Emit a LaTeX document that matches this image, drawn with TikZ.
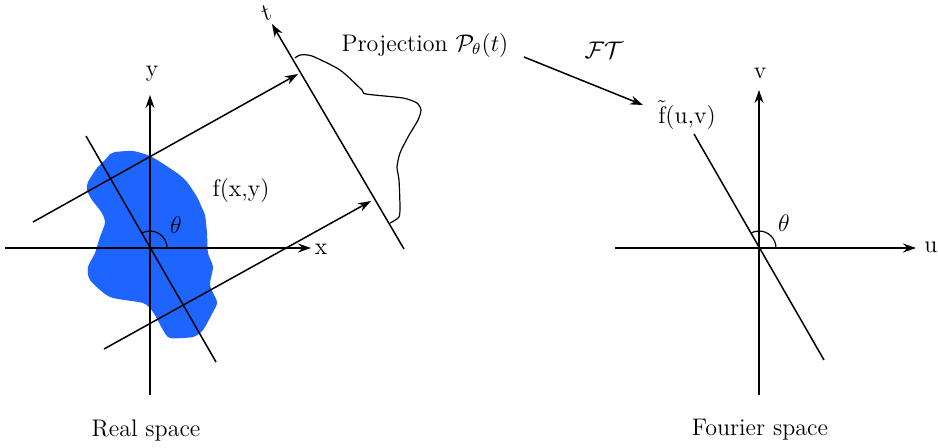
\documentclass[tikz,border=0pt]{standalone}
\usepackage{amsmath,amssymb}
\usetikzlibrary{arrows.meta}

\tikzset{
  axis/.style={line width=0.75pt, -{Stealth[length=6.5pt,width=4.5pt]}},
  plain/.style={line width=0.75pt},
  label/.style={font=\fontsize{12}{14}\selectfont, inner sep=0pt},
}

\begin{document}
\begin{tikzpicture}[x=0.5pt,y=0.5pt]
  \useasboundingbox (0,0) rectangle (938,447);

  % Object in real space
  \fill[fill={rgb,255:red,30;green,100;blue,255}] plot[smooth, tension=0.4] coordinates {
    (115,295) (133,296) (152,290) (177,274) (187,265) (197,250) (202,239)
    (205,232) (207,214) (208,194) (213,180) (210,162) (217,145) (213,135)
    (203,117) (193,110) (170,109) (163,117) (153,135) (143,144) (110,150)
    (90,167) (88,180) (95,194) (100,210) (105,224) (102,234) (92,247)
    (87,257) (88,265) (97,279) (105,287) (110,293)} -- cycle;

  % Real space coordinates
  \coordinate (o1)  at (150,199);
  \coordinate (xl)  at (5,199);
  \coordinate (xr)  at (311,199);
  \coordinate (yb)  at (150,52);
  \coordinate (yt)  at (150,352);
  \coordinate (l1a) at (86,311);
  \coordinate (l1b) at (216,85);
  \coordinate (r1a) at (33,225);
  \coordinate (r1b) at (298,373);
  \coordinate (r2a) at (104,98);
  \coordinate (r2b) at (371,246);
  \coordinate (ta)  at (404,198);
  \coordinate (tb)  at (272,423);

  % Fourier space coordinates
  \coordinate (o2)  at (759,199);
  \coordinate (ul)  at (615,199);
  \coordinate (ur)  at (916,199);
  \coordinate (vb)  at (759,52);
  \coordinate (vt)  at (759,357);
  \coordinate (l2a) at (694,313);
  \coordinate (l2b) at (824,87);

  % Labels
  \node[label] (x)     at (321,198) {x};
  \node[label] (y)     at (152,373) {y};
  \node[label] (t)     at (266,434) [rotate=30] {$t$};
  \node[label] (th1)   at (176,222) {$\theta$};
  \node[label] (f)     at (241,256) {f(x,y)};
  \node[label] (proj)  at (425,402) {Projection $\mathcal{P}_\theta(t)$};
  \node[label] (ft)    at (604,397) {$\mathcal{FT}$};
  \node[label] (ftil)  at (687,332) {$\tilde{\text{f}}$(u,v)};
  \node[label] (u)     at (931,200) {u};
  \node[label] (v)     at (760,374) {v};
  \node[label] (th2)   at (784,224) {$\theta$};
  \node[label] (real)  at (146,17)  {Real space};
  \node[label] (four)  at (760,17)  {Fourier space};

  % Real space
  \draw[axis] (xl) -- (xr);
  \draw[axis] (yb) -- (yt);
  \draw[plain] (l1a) -- (l1b);
  \draw[line width=0.6pt] (o1) ++(17,0) arc[start angle=0, end angle=120, radius=17];
  \draw[axis] (r1a) -- (r1b);
  \draw[axis] (r2a) -- (r2b);
  \draw[axis] (ta) -- (tb);

  % Projection profile
  \draw[line width=0.6pt] plot[smooth, tension=0.4] coordinates {
    (295,389) (300,392) (312,391) (340,377) (362,357) (366,353) (403,349)
    (417,344) (421,337) (418,327) (408,310) (400,294) (397,280) (399,267)
    (400,240) (399,230) (392,225) (390,224)};

  % Fourier transform
  \coordinate (fta) at (524,390);
  \coordinate (ftb) at (643,342);
  \draw[axis] (fta) -- (ftb);

  % Fourier space
  \draw[axis] (ul) -- (ur);
  \draw[axis] (vb) -- (vt);
  \draw[plain] (l2a) -- (l2b);
  \draw[line width=0.6pt] (o2) ++(17,0) arc[start angle=0, end angle=120, radius=17];
\end{tikzpicture}
\end{document}
